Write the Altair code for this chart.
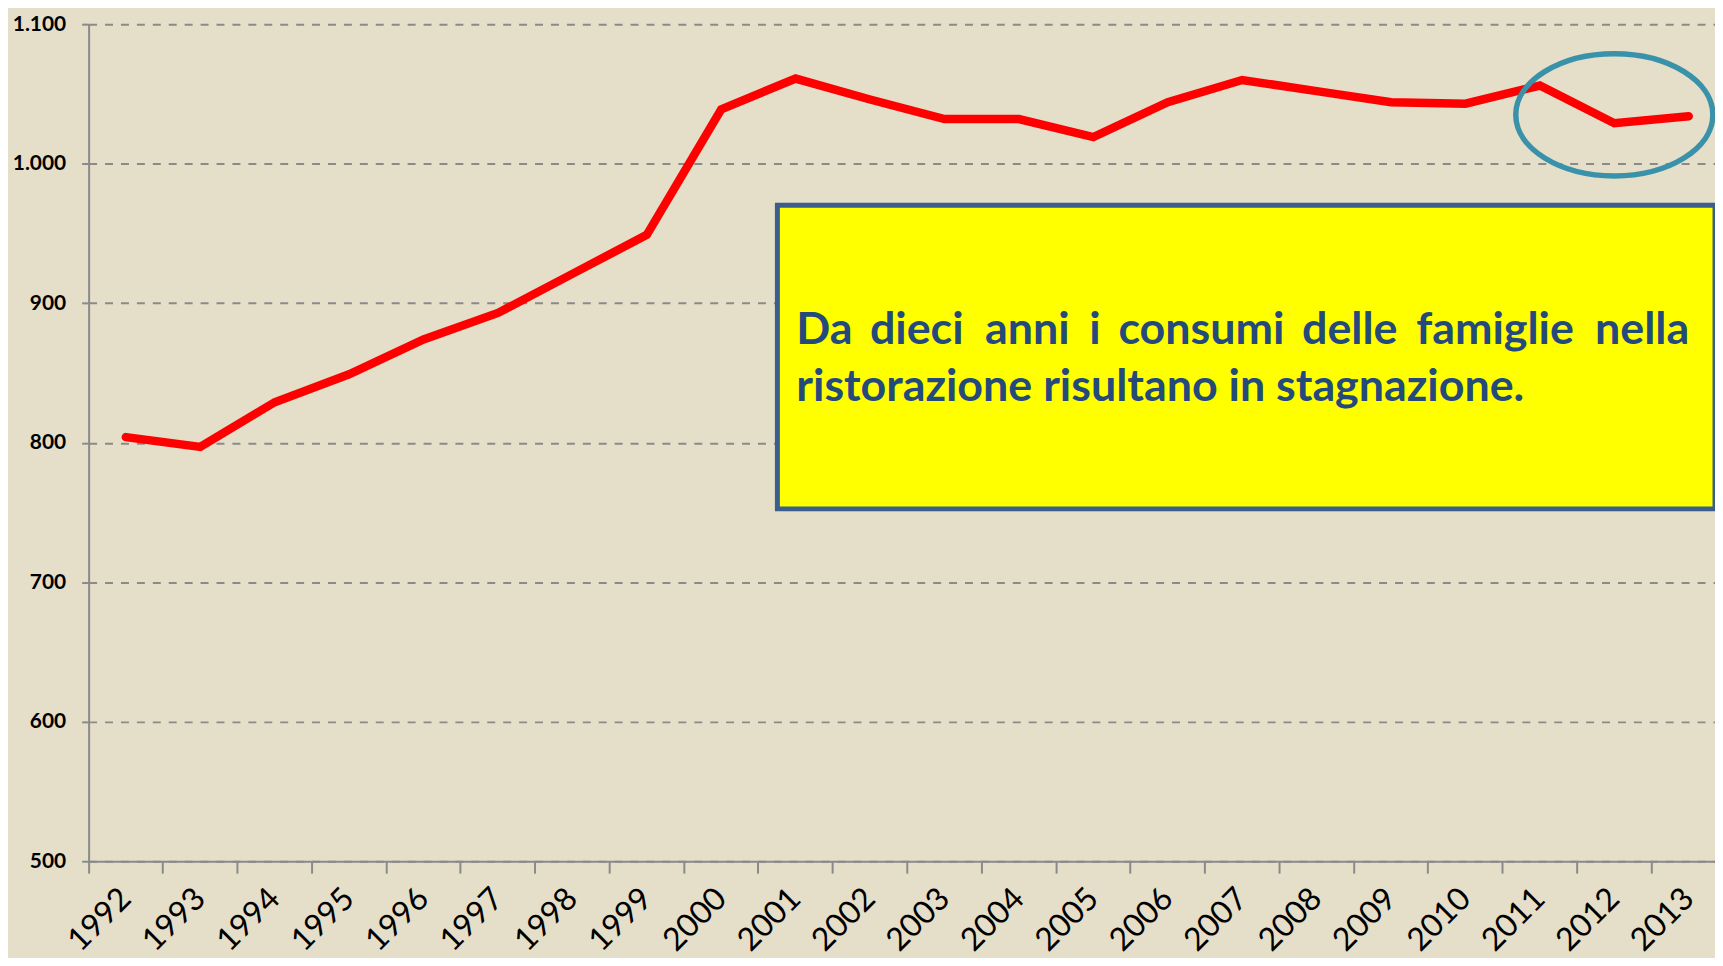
import altair as alt
import pandas as pd

# ---- data ----
years = ["1992", "1993", "1994", "1995", "1996", "1997", "1998", "1999", "2000", "2001", "2002",
         "2003", "2004", "2005", "2006", "2007", "2008", "2009", "2010", "2011", "2012", "2013"]
values = [804, 797, 829, 849, 874, 893, 921, 949, 1039, 1061, 1046,
          1032, 1032, 1019, 1044, 1060, 1052, 1044, 1043, 1056, 1029, 1034]
y_ticks = [500, 600, 700, 800, 900, 1000, 1100]

line1_words = ["Da", "dieci", "anni", "i", "consumi", "delle", "famiglie", "nella"]
line2_text = "ristorazione risultano in stagnazione."

# ---- layout (annotation positions, in plot pixels; justified first line) ----
line1_x = [711, 832, 943, 1011, 1118, 1267, 1413, 1608]
line1_align = ["left"] + ["center"] * 6 + ["right"]
LINE1_Y = 321
LINE2_Y = 379
BOX = dict(x=692, x2=1634, y=182, y2=487)

BG = "#E5DEC8"
GRAY = "#8a8a8a"
TXT_BLUE = "#244A7C"

df = pd.DataFrame({"anno": years, "valore": values})
one = pd.DataFrame({"k": [0]})

x_enc = alt.X(
    "anno:N", sort=None, title=None,
    scale=alt.Scale(type="band", domain=years, paddingInner=0, paddingOuter=0, range=[0, 1645]),
    axis=alt.Axis(
        bandPosition=0, labelAngle=-45, labelAlign="right", labelBaseline="middle",
        labelFont="Lato", labelFontSize=32, labelFontWeight="normal", labelColor="black",
        labelPadding=20, labelOverlap=False, tickSize=12, tickColor=GRAY, tickWidth=2,
        domainColor=GRAY, domainWidth=2, grid=False,
    ),
)
y_enc = alt.Y(
    "valore:Q", title=None,
    scale=alt.Scale(domain=[500, 1100], nice=False, zero=False),
    axis=alt.Axis(
        values=y_ticks,
        labelExpr="replace(format(datum.value, ','), ',', '.')",
        labelFont="Lato", labelFontSize=21, labelFontWeight="bold", labelColor="black",
        labelPadding=16, tickSize=7, tickColor=GRAY, tickWidth=2,
        domainColor=GRAY, domainWidth=2,
        grid=True, gridColor=GRAY, gridDash=[8, 8], gridWidth=2,
    ),
)

ELLIPSE = ("M-1,0C-1,-0.3424,-0.5523,-0.62,0,-0.62C0.5523,-0.62,1,-0.3424,1,0"
           "C1,0.3424,0.5523,0.62,0,0.62C-0.5523,0.62,-1,0.3424,-1,0Z")

ellipse = alt.Chart(one).mark_point(
    shape=ELLIPSE, size=198 ** 2, filled=False, stroke="#3A92AA", strokeWidth=5.5, opacity=1
).encode(x=alt.datum("2012"), y=alt.datum(1035))

line = alt.Chart(df).mark_line(
    color="#FF0000", strokeWidth=8.5, strokeCap="round", strokeJoin="miter"
).encode(x=x_enc, y=y_enc)

box = alt.Chart(one).mark_rect(
    fill="#FFFF00", stroke="#3B5E8C", strokeWidth=5
).encode(x=alt.value(BOX["x"]), x2=alt.value(BOX["x2"]),
         y=alt.value(BOX["y"]), y2=alt.value(BOX["y2"]))

text_style = dict(font="Lato", fontWeight="bold", fontSize=45, color=TXT_BLUE,
                  baseline="alphabetic")
words = []
for w, px, al in zip(line1_words, line1_x, line1_align):
    words.append(
        alt.Chart(one).mark_text(align=al, text=w, **text_style)
        .encode(x=alt.value(px), y=alt.value(LINE1_Y))
    )
line2 = alt.Chart(one).mark_text(align="left", text=line2_text, **text_style).encode(
    x=alt.value(line1_x[0]), y=alt.value(LINE2_Y))

chart = alt.layer(line, ellipse, box, *words, line2).properties(
    width=1634, height=841,
    autosize=alt.AutoSizeParams(type="none"),
    padding={"left": 81, "top": 14, "right": 0, "bottom": 95},
    background=BG,
).configure_view(stroke=None)

chart.save("out.html", embed_options={"renderer": "svg", "actions": False})
